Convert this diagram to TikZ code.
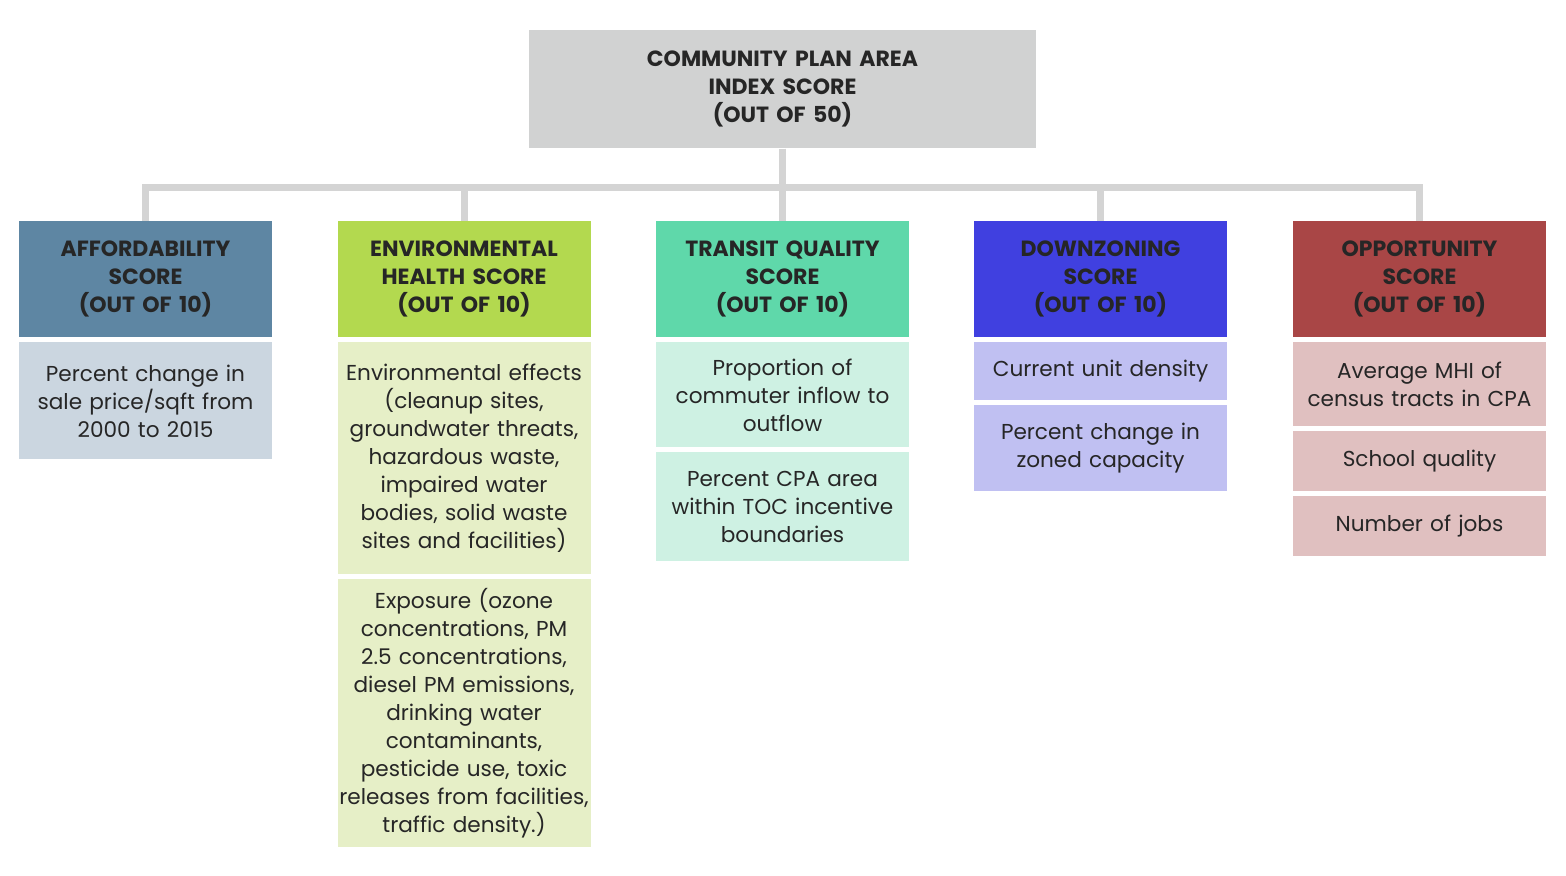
\documentclass[tikz,border=0pt]{standalone}
\usepackage{fontspec}
\setmainfont{Poppins}

\definecolor{rootgray}{HTML}{D1D2D2}
\definecolor{linkgray}{HTML}{D4D4D4}
\definecolor{textdark}{HTML}{262626}
\definecolor{affhead}{HTML}{5E86A3}
\definecolor{affitem}{HTML}{CBD6E0}
\definecolor{envhead}{HTML}{B3D94F}
\definecolor{envitem}{HTML}{E6EFC7}
\definecolor{trahead}{HTML}{5FD8AA}
\definecolor{traitem}{HTML}{CEF1E3}
\definecolor{dowhead}{HTML}{4040E0}
\definecolor{dowitem}{HTML}{C0C0F2}
\definecolor{opphead}{HTML}{A94646}
\definecolor{oppitem}{HTML}{E0C0C0}

\begin{document}
\begin{tikzpicture}[x=0.5pt,y=-0.5pt,
    box/.style={anchor=north, inner sep=0pt, align=center, minimum width=126.5pt,
      text width=126.5pt, text=textdark},
    head/.style={box, minimum height=58pt, font=\bfseries\fontsize{11}{14}\selectfont},
    item/.style={box, font=\fontsize{10.8}{14}\selectfont},
    link/.style={draw=linkgray, line width=3.5pt}]
  \useasboundingbox (0,0) rectangle (1566,876);

  % top box
  \node[box, fill=rootgray, minimum width=253.5pt, text width=250pt, minimum height=59pt,
    font=\bfseries\fontsize{11}{14}\selectfont] (root) at (782.5,30)
    {COMMUNITY PLAN AREA\\INDEX SCORE\\(OUT OF 50)};

  % score boxes
  \node[head, fill=affhead] (afford) at (145.5,221) {AFFORDABILITY\\SCORE\\(OUT OF 10)};
  \node[head, fill=envhead] (envir) at (464,221) {ENVIRONMENTAL\\HEALTH SCORE\\(OUT OF 10)};
  \node[head, fill=trahead] (transit) at (782.5,221) {TRANSIT QUALITY\\SCORE\\(OUT OF 10)};
  \node[head, fill=dowhead] (downzone) at (1100.5,221) {DOWNZONING\\SCORE\\(OUT OF 10)};
  \node[head, fill=opphead] (opport) at (1419.5,221) {OPPORTUNITY\\SCORE\\(OUT OF 10)};

  \foreach \h in {afford,envir,transit,downzone,opport}
    \draw[link] (root.south) -- ++(0,39) -| (\h.north);

  % indicators
  \node[item, fill=affitem, minimum height=58.5pt] (afford1) at (145.5,342)
    {Percent change in\\sale price/sqft from\\2000 to 2015};

  \node[item, fill=envitem, minimum height=116pt] (envir1) at (464,342)
    {Environmental effects\\(cleanup sites,\\groundwater threats,\\hazardous waste,\\impaired water\\bodies, solid waste\\sites and facilities)};
  \node[item, fill=envitem, minimum height=134pt] (envir2) at (464,579)
    {Exposure (ozone\\concentrations, PM\\2.5 concentrations,\\diesel PM emissions,\\drinking water\\contaminants,\\pesticide use, toxic\\releases from facilities,\\traffic density.)};

  \node[item, fill=traitem, minimum height=52.5pt] (transit1) at (782.5,342)
    {Proportion of\\commuter inflow to\\outflow};
  \node[item, fill=traitem, minimum height=54.5pt] (transit2) at (782.5,452)
    {Percent CPA area\\within TOC incentive\\boundaries};

  \node[item, fill=dowitem, minimum height=29pt] (downzone1) at (1100.5,342)
    {Current unit density};
  \node[item, fill=dowitem, minimum height=43pt] (downzone2) at (1100.5,405)
    {Percent change in\\zoned capacity};

  \node[item, fill=oppitem, minimum height=42pt] (opport1) at (1419.5,342)
    {Average MHI of\\census tracts in CPA};
  \node[item, fill=oppitem, minimum height=30pt] (opport2) at (1419.5,431)
    {School quality};
  \node[item, fill=oppitem, minimum height=30pt] (opport3) at (1419.5,496)
    {Number of jobs};
\end{tikzpicture}
\end{document}
